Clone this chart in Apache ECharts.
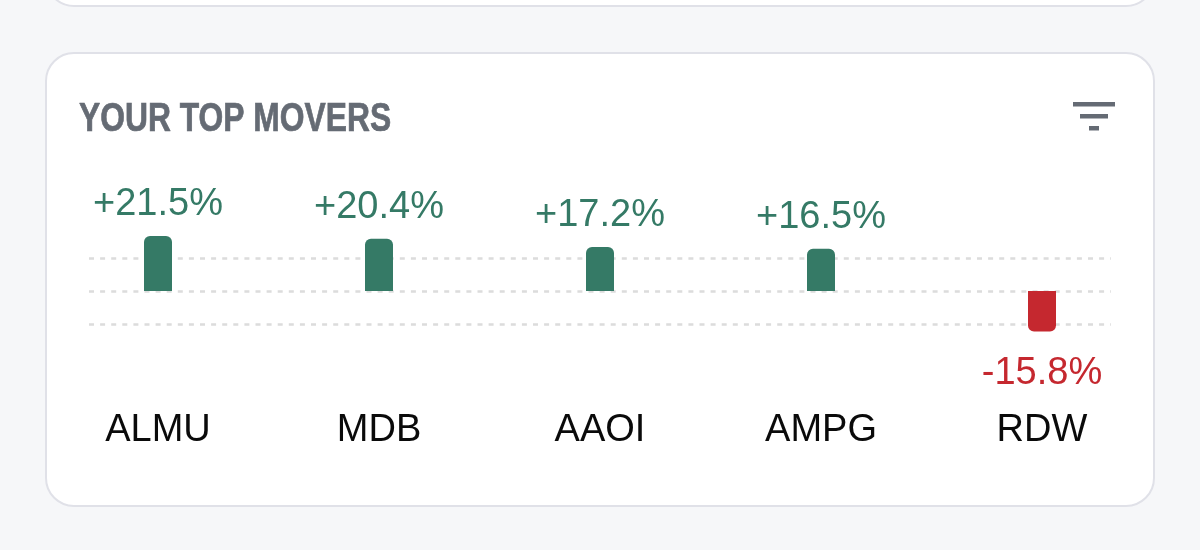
<!DOCTYPE html>
<html><head><meta charset="utf-8">
<style>html,body{margin:0;padding:0;background:#f6f7f9}#c{width:1200px;height:550px}</style>
<script src="https://cdn.jsdelivr.net/npm/echarts@6/dist/echarts.min.js"></script>
</head><body><div id="c"></div>
<script>
const categories = ['ALMU','MDB','AAOI','AMPG','RDW'];
const moves = [21.5,20.4,17.2,16.5,-15.8];
const titleText = 'YOUR TOP MOVERS';
const UP='#357a66', DOWN='#c5282f', FONT='"Liberation Sans", Arial, sans-serif';
const chart = echarts.init(document.getElementById('c'), null, {renderer:'canvas'});
chart.setOption({
  animation:false,
  backgroundColor:'#f6f7f9',
  graphic:[
    {type:'rect',z:-10,shape:{x:46,y:-60,width:1108,height:66,r:28},style:{fill:'#fff',stroke:'#e0e1e8',lineWidth:2}},
    {type:'rect',z:-10,shape:{x:46,y:53,width:1108,height:453,r:28},style:{fill:'#fff',stroke:'#e0e1e8',lineWidth:2}},
    {type:'text',x:79,y:120,scaleX:0.795,style:{text:titleText,fontFamily:FONT,fontWeight:'bold',fontSize:40,fill:'#656b74',stroke:'#656b74',lineWidth:0.7,verticalAlign:'middle',textAlign:'left'}},
    {type:'rect',shape:{x:1073,y:102,width:42,height:4.5},style:{fill:'#656b74'}},
    {type:'rect',shape:{x:1080,y:114,width:28,height:4.5},style:{fill:'#656b74'}},
    {type:'rect',shape:{x:1089,y:126,width:10,height:4.5},style:{fill:'#656b74'}}
  ],
  grid:[
    {left:89,width:1022,top:258,height:66},
    {left:47.5,width:1105,top:225,height:132}
  ],
  xAxis:[
    {gridIndex:0,type:'category',data:categories,show:false},
    {gridIndex:1,type:'category',data:categories,
     axisLine:{show:false,onZero:false},axisTick:{show:false},
     axisLabel:{color:'#0a0a0a',fontSize:38,fontFamily:FONT,margin:55}}
  ],
  yAxis:[
    {gridIndex:0,type:'value',min:-12.9,max:12.9,interval:12.9,axisLabel:{show:false},axisLine:{show:false},axisTick:{show:false},
     splitLine:{show:true,lineStyle:{color:'#dcdcdc',width:2.5,type:[5,6.1]}}},
    {gridIndex:1,type:'value',min:-25.8,max:25.8,axisLabel:{show:false},axisLine:{show:false},axisTick:{show:false},splitLine:{show:false}}
  ],
  series:[{
    type:'bar',xAxisIndex:1,yAxisIndex:1,barWidth:28,z:5,
    data:moves.map(v=>({value:v,
      itemStyle:{color:v>=0?UP:DOWN,borderRadius:v>=0?[6,6,0,0]:[0,0,6,6]},
      label:{position:v>=0?'top':'bottom',color:v>=0?UP:DOWN,distance:v>=0?12:23}})),
    label:{show:true,fontSize:38,fontFamily:FONT,
      formatter:p=>(p.value>=0?'+':'')+p.value.toFixed(1)+'%'}
  }]
});
</script></body></html>
